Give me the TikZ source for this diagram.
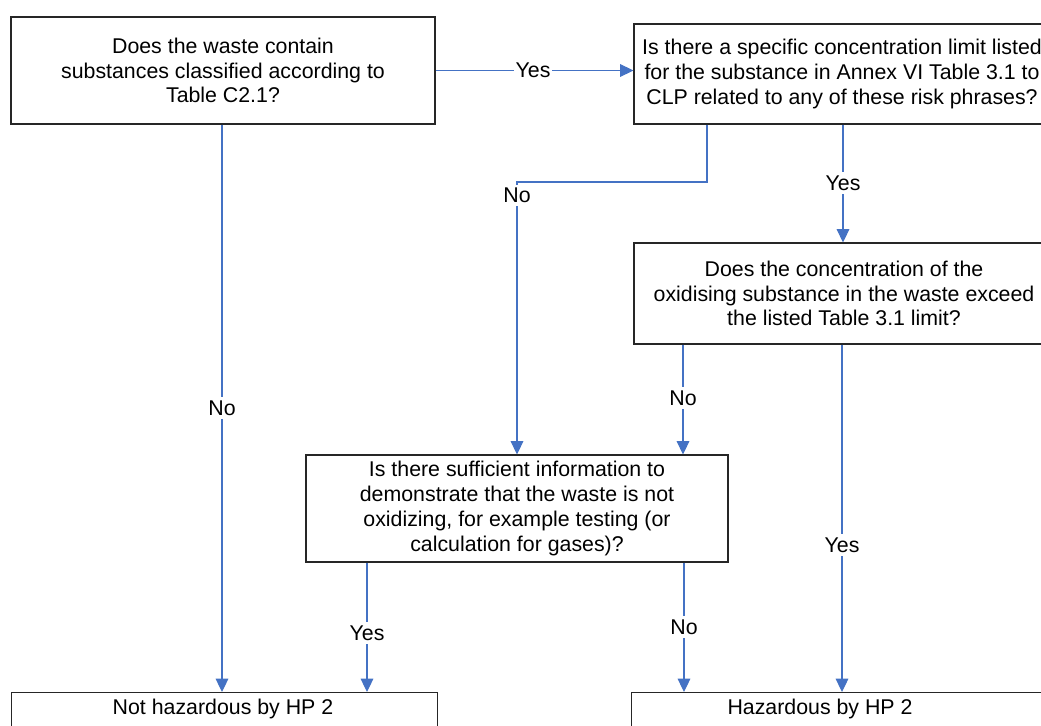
\documentclass[tikz,border=0pt]{standalone}
\usepackage{fontspec}
\setmainfont{Liberation Sans}
\usetikzlibrary{arrows.meta}
\definecolor{flowblue}{HTML}{4472C4}
\definecolor{boxline}{HTML}{262626}
\begin{document}
\begin{tikzpicture}[x=0.75pt, y=-0.75pt,
  font=\fontsize{16}{18.6}\selectfont,
  box/.style={draw=boxline, line width=0.8pt, fill=white, align=center, inner sep=0pt},
  endbox/.style={draw=boxline, line width=0.8pt, fill=white, anchor=north west, inner sep=0pt},
  conn/.style={draw=flowblue, line width=0.8pt, -{Triangle[length=10pt, width=9.5pt]}},
  plain/.style={draw=flowblue, line width=0.8pt},
  lbl/.style={fill=white, inner xsep=1pt, inner ysep=2.5pt}]
\useasboundingbox (0,0) rectangle (1041,725);
\clip (0,0) rectangle (1041,725);

% decision boxes
\node[box, minimum width=318pt, minimum height=80.25pt] (qA) at (223,70.5)
  {Does the waste contain\\substances classified according to\\Table C2.1?};
\node[box, minimum width=312pt, minimum height=75pt] (qB) at (842,74)
  {Is there a specific concentration limit listed\\for the substance in Annex VI Table 3.1 to\\CLP related to any of these risk phrases?};
\node[box, minimum width=315pt, minimum height=75.75pt] (qD) at (844,293.5)
  {Does the concentration of the\\oxidising substance in the waste exceed\\the listed Table 3.1 limit?};
\node[box, minimum width=316.5pt, minimum height=80.25pt] (qC) at (517,508.5)
  {Is there sufficient information to\\demonstrate that the waste is not\\oxidizing, for example testing (or\\calculation for gases)?};

% outcome boxes
\node[endbox, minimum width=319.5pt, minimum height=60pt] (notHaz) at (11,692) {};
\node (notHazTxt) at (223,709) {Not hazardous by HP 2};
\node[endbox, minimum width=321.75pt, minimum height=60pt] (haz) at (631,692) {};
\node (hazTxt) at (820,709) {Hazardous by HP 2};

% connector columns
\coordinate (xA) at (222,0);
\coordinate (xBno) at (707,0);
\coordinate (kBno) at (517,182);
\coordinate (xByes) at (843,0);
\coordinate (xDno) at (683,0);
\coordinate (xDyes) at (842,0);
\coordinate (xCyes) at (367,0);
\coordinate (xCno) at (684,0);

% connectors
\draw[conn] (qA.east) -- (qB.west |- qA.east);
\draw[conn] (qA.south -| xA) -- (notHaz.north -| xA);
\draw[conn] (qB.south -| xBno) |- (kBno) -- (qC.north -| kBno);
\draw[conn] (qB.south -| xByes) -- (qD.north -| xByes);
\draw[conn] (qD.south -| xDno) -- (qC.north -| xDno);
\draw[conn] (qD.south -| xDyes) -- (haz.north -| xDyes);
\draw[conn] (qC.south -| xCyes) -- (notHaz.north -| xCyes);
\draw[conn] (qC.south -| xCno) -- (haz.north -| xCno);

% branch labels
\node[lbl] (lAB) at (533,70) {Yes};
\node[lbl] (lAN) at (222,408) {No};
\node[lbl] (lBN) at (517,195.5) {No};
\node[lbl] (lBY) at (843,183) {Yes};
\node[lbl] (lDN) at (683,398) {No};
\node[lbl] (lDY) at (842,545) {Yes};
\node[lbl] (lCY) at (367,633) {Yes};
\node[lbl] (lCN) at (684,627) {No};
\end{tikzpicture}
\end{document}
